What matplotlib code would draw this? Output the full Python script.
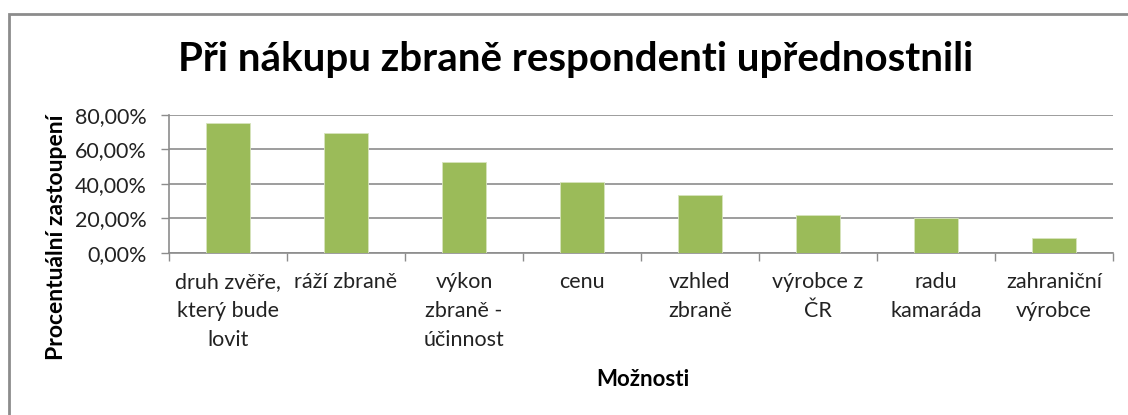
import matplotlib.pyplot as plt
import matplotlib.patches as patches
import numpy as np

# data
categories = ["druh zvěře,\nkterý bude\nlovit", "ráží zbraně", "výkon\nzbraně -\núčinnost",
              "cenu", "vzhled\nzbraně", "výrobce z\nČR", "radu\nkamaráda", "zahraniční\nvýrobce"]
values = [75.4, 69.4, 52.8, 41.2, 33.8, 21.8, 20.0, 8.5]
yticks = [0, 20, 40, 60, 80]
ytick_labels = ["0,00%", "20,00%", "40,00%", "60,00%", "80,00%"]

plt.rcParams['font.family'] = ['Lato', 'DejaVu Sans']

fig = plt.figure(figsize=(11.28, 4.15), dpi=100, facecolor='w')
ax = fig.add_axes([0.1498, 0.3904, 0.8369, 0.3325])

# chart border (runs off right and bottom edges)
border = patches.Rectangle((9 / 1128, -0.05), 1.1, 1 - 14 / 415 + 0.05, transform=fig.transFigure,
                           fill=False, edgecolor='#8c8c8c', lw=2, clip_on=False)
fig.patches.append(border)

x = np.arange(len(categories))
ax.bar(x, values, width=0.37, color='#9BBB59', edgecolor='#d7e4bd', lw=0.6, zorder=3)

ax.set_xlim(-0.5, len(categories) - 0.5)
ax.set_ylim(0, 80)
ax.set_yticks(yticks)
ax.set_yticklabels(ytick_labels, fontsize=15.5, color='#222222')
ax.yaxis.grid(True, color='#8c8c8c', lw=1.2, zorder=0)
ax.set_axisbelow(True)

ax.set_xticks(np.arange(len(categories) + 1) - 0.5)
ax.set_xticklabels([])
ax.set_xticks(x, minor=True)
ax.set_xticklabels(categories, minor=True, fontsize=15.5, color='#222222', linespacing=1.55,
                   va='top')
ax.tick_params(axis='x', which='minor', length=0, pad=14)
ax.tick_params(axis='x', which='major', length=6, color='#8c8c8c', width=1)
ax.tick_params(axis='y', length=6, color='#8c8c8c', width=1, pad=10)

for s in ['top', 'right']:
    ax.spines[s].set_visible(False)
for s in ['left', 'bottom']:
    ax.spines[s].set_color('#8c8c8c')
    ax.spines[s].set_linewidth(1.2)

fig.text(576 / 1128, 1 - 60 / 415, "Při nákupu zbraně respondenti upřednostnili", ha='center', va='center',
         fontsize=29, fontweight='bold')
fig.text(57 / 1128, 1 - 237 / 415, "Procentuální zastoupení", rotation=90, ha='center', va='center',
         fontsize=16.5, fontweight='bold')
fig.text(643 / 1128, 1 - 380 / 415, "Možnosti", ha='center', va='center', fontsize=16, fontweight='bold')

fig.savefig('out.png', dpi=100)
